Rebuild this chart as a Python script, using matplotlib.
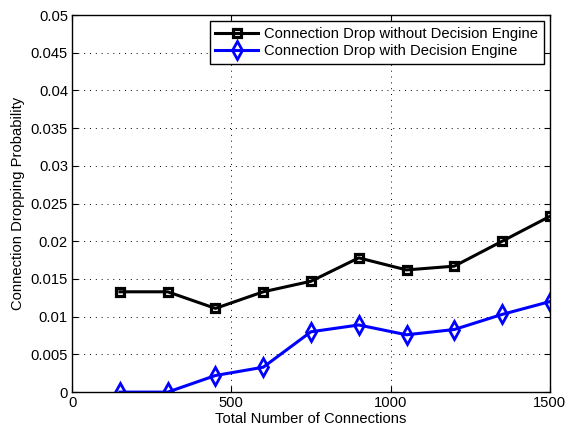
import matplotlib
matplotlib.use('Agg')
import matplotlib.pyplot as plt

plt.rcParams['font.family'] = ['Liberation Sans', 'DejaVu Sans']

connections = [150, 300, 450, 600, 750, 900, 1050, 1200, 1350, 1500]
drop_without = [0.0133, 0.0133, 0.0111, 0.0133, 0.0147, 0.0178, 0.0162, 0.0167, 0.0200, 0.0233]
drop_with = [0.0, 0.0, 0.0022, 0.0033, 0.0080, 0.0089, 0.0076, 0.0083, 0.0103, 0.0120]

xticks = [0, 500, 1000, 1500]
yticks = [0, 0.005, 0.01, 0.015, 0.02, 0.025, 0.03, 0.035, 0.04, 0.045, 0.05]
ytick_labels = ['0', '0.005', '0.01', '0.015', '0.02', '0.025', '0.03', '0.035', '0.04', '0.045', '0.05']

fs = 10.6

fig = plt.figure(figsize=(5.68, 4.29), dpi=100)
ax = fig.add_axes([0.127, 0.086, 0.841, 0.879])

ax.plot(connections, drop_without, '-s', color='black', linewidth=2.2,
        markersize=6, markerfacecolor='none', markeredgewidth=2.3,
        label='Connection Drop without Decision Engine')
ax.plot(connections, drop_with, '-d', color='blue', linewidth=2.2,
        markersize=9, markerfacecolor='none', markeredgewidth=2,
        label='Connection Drop with Decision Engine')

ax.set_xlim(0, 1500)
ax.set_ylim(0, 0.05)
ax.set_xticks(xticks)
ax.set_yticks(yticks)
ax.set_yticklabels(ytick_labels)
ax.grid(True, linestyle=(0, (1, 5)), color='black', linewidth=0.7)
ax.tick_params(direction='in', labelsize=fs, top=True, right=True, length=4, pad=3)
for s in ax.spines.values():
    s.set_linewidth(1)

ax.set_xlabel('Total Number of Connections', fontsize=fs, labelpad=1)
ax.set_ylabel('Connection Dropping Probability', fontsize=fs, labelpad=4)

leg = ax.legend(loc='upper right', fontsize=fs, fancybox=False, framealpha=1,
                edgecolor='black', borderaxespad=0.4, handlelength=2.9,
                labelspacing=0.2, borderpad=0.4, handletextpad=0.4)
leg.get_frame().set_linewidth(1)

fig.savefig('out.png', dpi=100)
